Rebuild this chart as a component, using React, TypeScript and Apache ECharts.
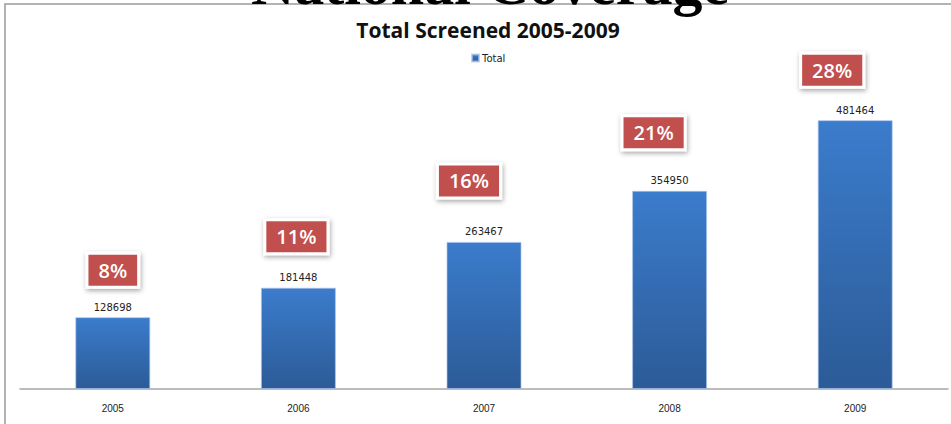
import React, { useEffect, useRef } from "react";
import * as echarts from "echarts";

const categories = ["2005", "2006", "2007", "2008", "2009"];
const totals = [128698, 181448, 263467, 354950, 481464];
const percents = ["8%", "11%", "16%", "21%", "28%"];
const seriesName = "Total";
const chartTitle = "Total Screened 2005-2009";
const slideTitle = "National Coverage";

// layout offsets of the percentage boxes relative to each bar top (px)
const boxOffsets = [
  [0, -47],
  [-2, -51],
  [-15, -61],
  [-16, -58],
  [-23, -50],
];

export default function App() {
  const ref = useRef<HTMLDivElement>(null);
  useEffect(() => {
    if (!ref.current) return;
    const chart = echarts.init(ref.current, undefined, { renderer: "svg" });
    chart.setOption({
      animation: false,
      backgroundColor: "#ffffff",
      title: {
        text: chartTitle,
        left: 483,
        textAlign: "center",
        top: 12,
        textStyle: {
          fontFamily: "Open Sans",
          fontWeight: "bold",
          fontSize: 21,
          lineHeight: 26,
          color: "#111",
        },
      },
      legend: {
        data: [seriesName],
        left: 466,
        top: 48,
        icon: "rect",
        itemWidth: 7,
        itemHeight: 7,
        itemGap: 4,
        textStyle: { fontFamily: "DejaVu Sans", fontSize: 10, color: "#222", padding: [0, 0, 0, -2] },
      },
      grid: { left: 20, right: 3, top: 54, bottom: 35 },
      xAxis: {
        type: "category",
        data: categories,
        axisLine: { lineStyle: { color: "#a6a6a6", width: 1.5 } },
        axisTick: { show: false },
        axisLabel: {
          margin: 14,
          fontFamily: "Liberation Sans Narrow, Liberation Sans",
          fontSize: 10,
          color: "#222",
        },
      },
      yAxis: {
        type: "value",
        min: 0,
        max: 600000,
        show: false,
        splitLine: { show: false },
      },
      series: [
        {
          name: seriesName,
          type: "bar",
          data: totals,
          barWidth: 75,
          itemStyle: {
            color: new echarts.graphic.LinearGradient(0, 0, 0, 1, [
              { offset: 0, color: "#3b7ccc" },
              { offset: 1, color: "#2c5b97" },
            ]),
            borderColor: "rgba(170,195,235,0.7)",
            borderWidth: 1,
          },
          label: {
            show: true,
            position: "top",
            distance: 5,
            fontFamily: "DejaVu Sans",
            fontSize: 10,
            color: "#222",
          },
        },
        {
          name: "pct",
          type: "scatter",
          data: totals.map((v, i) => ({
            value: v,
            label: { offset: boxOffsets[i], formatter: percents[i] },
          })),
          symbolSize: 1,
          itemStyle: { color: "rgba(0,0,0,0)", opacity: 1 },
          silent: true,
          z: 5,
          label: {
            show: true,
            position: "inside",
            fontFamily: "Open Sans",
            fontWeight: 600,
            fontSize: 20,
            lineHeight: 22,
            color: "#ffffff",
            textBorderWidth: 0,
            backgroundColor: "#c0504d",
            borderColor: "#ffffff",
            borderWidth: 3,
            padding: [5, 10, 4, 10],
            shadowColor: "rgba(0,0,0,0.35)",
            shadowBlur: 5,
            shadowOffsetX: 1,
            shadowOffsetY: 2,
          },
        },
      ],
      graphic: [
        {
          type: "rect",
          shape: { x: 5, y: 4, width: 1000, height: 500 },
          style: { fill: "none", stroke: "#9a9a9a", lineWidth: 1.5 },
          z: 1,
        },
        {
          type: "text",
          x: 490,
          y: -16,
          style: {
            text: slideTitle,
            font: "bold 60px 'Liberation Serif'",
            lineHeight: 36,
            fill: "#000",
            textAlign: "center",
            textVerticalAlign: "middle",
          },
          z: 2,
        },
      ],
    });
    return () => chart.dispose();
  }, []);
  return (
    <div
      ref={ref}
      style={{ position: "fixed", left: 0, top: 0, width: 951, height: 424 }}
    />
  );
}
